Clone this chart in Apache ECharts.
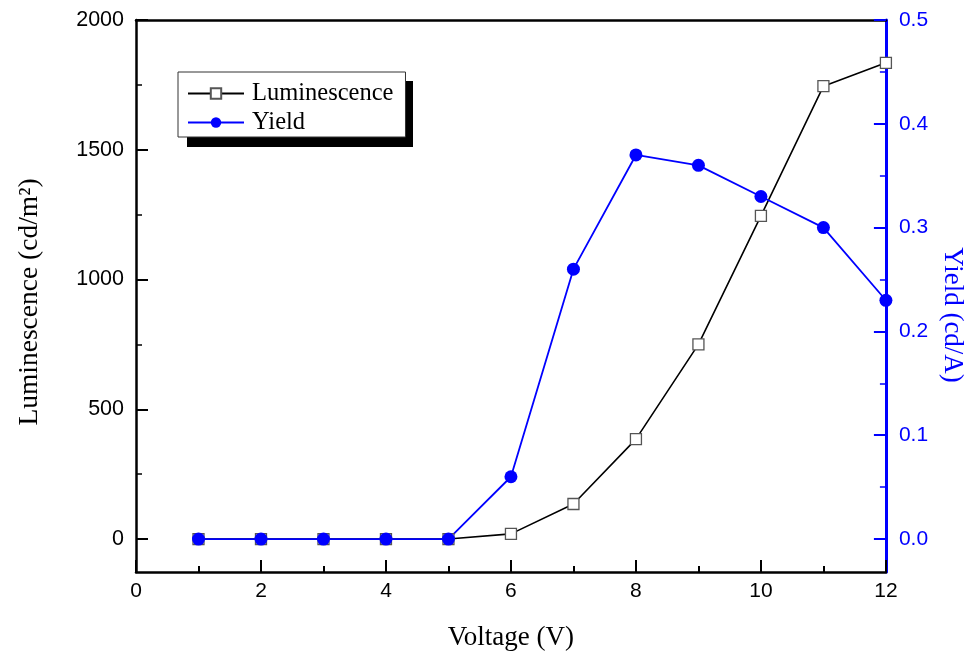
<!DOCTYPE html>
<html>
<head>
<meta charset="utf-8">
<script src="https://cdn.jsdelivr.net/npm/echarts@6/dist/echarts.min.js"></script>
<style>
  html, body { margin: 0; padding: 0; background: #fff; }
  #chart { width: 974px; height: 657px; }
</style>
</head>
<body>
<div id="chart"></div>
<script>
// Device measurements: luminance and current efficiency vs. driving voltage
const voltage = [1, 2, 3, 4, 5, 6, 7, 8, 9, 10, 11, 12];
const luminescence = [0, 0, 0, 0, 0, 20, 135, 385, 750, 1245, 1745, 1835];
const yieldValues = [0, 0, 0, 0, 0, 0.06, 0.26, 0.37, 0.36, 0.33, 0.30, 0.23];

const lumTicks = [0, 500, 1000, 1500, 2000];
const lumMinorTicks = [250, 750, 1250, 1750];
const yieldTicks = [0, 0.1, 0.2, 0.3, 0.4, 0.5];
const yieldMinorTicks = [0.05, 0.15, 0.25, 0.35, 0.45];

const lumMin = -127, lumMax = 2000;
const yieldMin = lumMin / lumMax * 0.5, yieldMax = 0.5;

const SANS = 'Liberation Sans, Arial, sans-serif';
const SERIF = 'Liberation Serif, Times New Roman, serif';
const BLUE = '#0000ff';

const chart = echarts.init(document.getElementById('chart'));

function minorAxis(pos, min, max, values, color) {
  return {
    type: 'value', position: pos, min: min, max: max,
    axisLine: { show: false, onZero: false },
    axisTick: { show: true, inside: true, length: 6, customValues: values,
                lineStyle: { color: color, width: 1.5 } },
    axisLabel: { show: false },
    splitLine: { show: false }
  };
}

chart.setOption({
  animation: false,
  backgroundColor: '#ffffff',
  grid: { left: 136, right: 88, top: 20, bottom: 85 },
  // drop shadow behind the legend box
  graphic: [{
    type: 'rect', z: 1, silent: true,
    shape: { x: 187, y: 81, width: 226, height: 66 },
    style: { fill: '#000' }
  }],
  legend: {
    orient: 'vertical',
    left: 178, top: 72, z: 10,
    padding: [9, 12, 2, 9],
    itemGap: 4,
    itemWidth: 56, itemHeight: 13,
    backgroundColor: '#ffffff',
    borderColor: '#333',
    borderWidth: 1,
    textStyle: { fontFamily: SERIF, fontSize: 24.5, color: '#000', padding: [0, 0, 0, 3] },
    data: ['Luminescence', 'Yield']
  },
  xAxis: [
    {
      type: 'value', position: 'bottom', min: 0, max: 12, interval: 2,
      name: 'Voltage (V)', nameLocation: 'middle', nameGap: 52,
      nameTextStyle: { fontFamily: SERIF, fontSize: 27, color: '#000' },
      axisLine: { onZero: false, lineStyle: { color: '#000', width: 2.5 } },
      axisTick: { inside: true, length: 12, lineStyle: { color: '#000', width: 2 } },
      minorTick: { show: true, splitNumber: 2, length: 6, lineStyle: { color: '#000', width: 2 } },
      axisLabel: { fontFamily: SANS, fontSize: 21, color: '#000', margin: 9 },
      splitLine: { show: false }
    },
    {
      type: 'value', position: 'top', min: 0, max: 12,
      axisLine: { onZero: false, lineStyle: { color: '#000', width: 2.5 } },
      axisTick: { show: false },
      axisLabel: { show: false },
      splitLine: { show: false }
    }
  ],
  yAxis: [
    {
      type: 'value', position: 'left', min: lumMin, max: lumMax,
      name: 'Luminescence (cd/m²)', nameLocation: 'middle', nameGap: 92, nameRotate: 90,
      nameTextStyle: { fontFamily: SERIF, fontSize: 27.5, color: '#000', padding: [0, 12, 0, 0] },
      axisLine: { onZero: false, lineStyle: { color: '#000', width: 2.5 } },
      axisTick: { inside: true, length: 12, customValues: lumTicks,
                  lineStyle: { color: '#000', width: 2 } },
      axisLabel: { customValues: lumTicks, fontFamily: SANS, fontSize: 21.5, color: '#000', margin: 12,
                   formatter: v => String(v) },
      splitLine: { show: false }
    },
    {
      type: 'value', position: 'right', min: yieldMin, max: yieldMax,
      name: 'Yield (cd/A)', nameLocation: 'middle', nameGap: 53, nameRotate: -90,
      nameTextStyle: { fontFamily: SERIF, fontSize: 27, color: BLUE, padding: [0, 0, 0, 38] },
      axisLine: { onZero: false, lineStyle: { color: BLUE, width: 3 } },
      axisTick: { inside: true, length: 12, customValues: yieldTicks,
                  lineStyle: { color: BLUE, width: 2 } },
      axisLabel: { customValues: yieldTicks, fontFamily: SANS, fontSize: 21, color: BLUE, margin: 13,
                   formatter: v => v.toFixed(1) },
      splitLine: { show: false }
    },
    minorAxis('left', lumMin, lumMax, lumMinorTicks, '#000'),
    minorAxis('right', yieldMin, yieldMax, yieldMinorTicks, BLUE)
  ],
  series: [
    {
      name: 'Luminescence', type: 'line', xAxisIndex: 0, yAxisIndex: 0,
      data: voltage.map((v, i) => [v, luminescence[i]]),
      symbol: 'rect', symbolSize: 11,
      itemStyle: { color: '#ffffff', borderColor: '#555', borderWidth: 1.3 },
      lineStyle: { color: '#000', width: 1.6 },
      emphasis: { disabled: true }
    },
    {
      name: 'Yield', type: 'line', xAxisIndex: 0, yAxisIndex: 1,
      data: voltage.map((v, i) => [v, yieldValues[i]]),
      symbol: 'circle', symbolSize: 13,
      itemStyle: { color: BLUE },
      lineStyle: { color: BLUE, width: 1.8 },
      emphasis: { disabled: true }
    }
  ]
});
</script>
</body>
</html>
